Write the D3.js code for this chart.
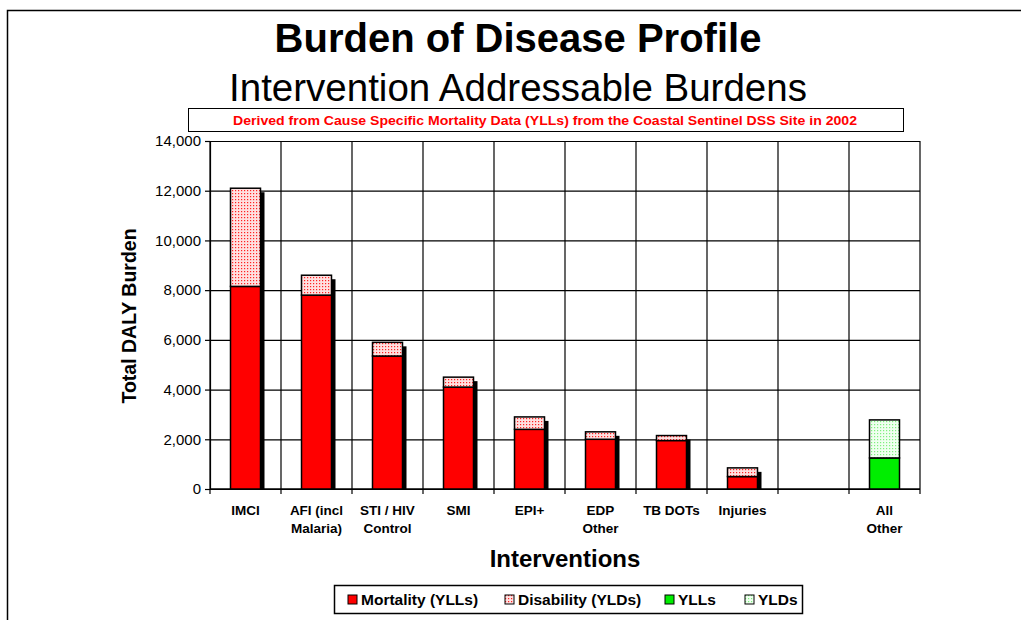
<!DOCTYPE html>
<html>
<head>
<meta charset="utf-8">
<script src="https://cdn.jsdelivr.net/npm/d3@7"></script>
<style>
  body { margin: 0; background: #fff; }
  svg { display: block; font-family: Arial, "Liberation Sans", sans-serif; }
</style>
</head>
<body>
<div id="chart"></div>
<script>
// Chart data
const categories = ["IMCI", "AFI (incl|Malaria)", "STI / HIV|Control", "SMI", "EPI+", "EDP|Other", "TB DOTs", "Injuries", "", "All|Other"];
const mortalityYLLs = [8150, 7800, 5350, 4100, 2400, 2000, 1950, 500, 0, 0];
const disabilityYLDs = [3950, 800, 550, 400, 500, 300, 200, 350, 0, 0];
const otherYLLs = [0, 0, 0, 0, 0, 0, 0, 0, 0, 1250];
const otherYLDs = [0, 0, 0, 0, 0, 0, 0, 0, 0, 1530];
const yTicks = [0, 2000, 4000, 6000, 8000, 10000, 12000, 14000];
const legendLabels = ["Mortality (YLLs)", "Disability (YLDs)", "YLLs", "YLDs"];

const width = 1021, height = 620;
const margin = { top: 141, right: 101, bottom: 131, left: 210 };
const chartWidth = width - margin.left - margin.right;
const chartHeight = height - margin.top - margin.bottom;

const svg = d3.select("#chart")
    .append("svg")
    .attr("width", width)
    .attr("height", height);

// Fill patterns for the dotted segments
const defs = svg.append("defs");
function dotPattern(id, bg, dot) {
    const p = defs.append("pattern")
        .attr("id", id)
        .attr("width", 3)
        .attr("height", 3)
        .attr("patternUnits", "userSpaceOnUse");
    p.append("rect").attr("width", 3).attr("height", 3).attr("fill", bg);
    p.append("rect").attr("x", 1).attr("y", 1).attr("width", 1.2).attr("height", 1.2).attr("fill", dot);
}
dotPattern("pinkDots", "#ffe0e0", "#f22");
dotPattern("greenDots", "#f0fff0", "#7ef07e");

// Outer frame
svg.append("path")
    .attr("d", `M7.5,${height} V10.5 H${width}`)
    .attr("fill", "none")
    .attr("stroke", "#000")
    .attr("stroke-width", 1.5);

// Titles
svg.append("text")
    .attr("x", 518).attr("y", 52)
    .attr("text-anchor", "middle")
    .style("font-size", "40px").style("font-weight", "bold")
    .text("Burden of Disease Profile");
svg.append("text")
    .attr("x", 518).attr("y", 101)
    .attr("text-anchor", "middle")
    .style("font-size", "38.5px")
    .text("Intervention Addressable Burdens");

svg.append("rect")
    .attr("x", 188.5).attr("y", 108.5)
    .attr("width", 715).attr("height", 23)
    .attr("fill", "#fff").attr("stroke", "#000").attr("stroke-width", 1);
svg.append("text")
    .attr("x", 233).attr("y", 124.5)
    .attr("fill", "#f00")
    .attr("textLength", 624)
    .attr("lengthAdjust", "spacingAndGlyphs")
    .style("font-size", "13px").style("font-weight", "bold")
    .text("Derived from Cause Specific Mortality Data (YLLs)  from the Coastal Sentinel DSS Site in 2002");

const g = svg.append("g")
    .attr("transform", `translate(${margin.left},${margin.top})`);

const xScale = d3.scaleBand()
    .domain(d3.range(categories.length))
    .range([0, chartWidth])
    .paddingInner(0)
    .paddingOuter(0);

const yScale = d3.scaleLinear()
    .domain([0, 14000])
    .range([chartHeight, 0]);

// Horizontal grid lines
g.append("g")
    .call(d3.axisLeft(yScale).tickValues(yTicks).tickSize(-chartWidth).tickFormat(""))
    .call(s => s.select(".domain").remove())
    .selectAll("line")
    .attr("stroke", "#000")
    .attr("stroke-width", 1.2);

// Vertical category separators
const boundaries = d3.range(categories.length + 1).map(i => i * xScale.step());
g.selectAll(".vgrid")
    .data(boundaries)
    .enter()
    .append("line")
    .attr("x1", d => d).attr("x2", d => d)
    .attr("y1", 0).attr("y2", chartHeight + 5)
    .attr("stroke", "#000")
    .attr("stroke-width", 1.2);

// Y axis
g.append("g")
    .call(d3.axisLeft(yScale).tickValues(yTicks).tickSize(5).tickFormat(d3.format(",")))
    .call(s => s.select(".domain").attr("stroke-width", 1.2))
    .call(s => s.selectAll("line").attr("stroke-width", 1.2))
    .selectAll("text")
    .attr("x", -9)
    .style("font-size", "15px")
    .attr("fill", "#000");

// Baseline
g.append("line")
    .attr("x1", 0).attr("x2", chartWidth)
    .attr("y1", chartHeight).attr("y2", chartHeight)
    .attr("stroke", "#000").attr("stroke-width", 1.5);

// Bars
const barW = 30;
categories.forEach((c, i) => {
    const x = xScale(i) + (xScale.bandwidth() - barW) / 2;
    const segs = [
        { v0: 0, v1: mortalityYLLs[i], fill: "#ff0000" },
        { v0: mortalityYLLs[i], v1: mortalityYLLs[i] + disabilityYLDs[i], fill: "url(#pinkDots)" },
        { v0: 0, v1: otherYLLs[i], fill: "#00ee00" },
        { v0: otherYLLs[i], v1: otherYLLs[i] + otherYLDs[i], fill: "url(#greenDots)" }
    ].filter(s => s.v1 > s.v0);
    if (segs.length === 0) return;
    const total = d3.max(segs, s => s.v1);
    // drop shadow for the intervention bars
    if (mortalityYLLs[i] > 0) {
        g.append("rect")
            .attr("x", x + 4)
            .attr("y", yScale(total) + 4)
            .attr("width", barW)
            .attr("height", chartHeight - yScale(total) - 4)
            .attr("fill", "#000");
    }
    segs.forEach(s => {
        g.append("rect")
            .attr("x", x)
            .attr("y", yScale(s.v1))
            .attr("width", barW)
            .attr("height", yScale(s.v0) - yScale(s.v1))
            .attr("fill", s.fill)
            .attr("stroke", "#000")
            .attr("stroke-width", 1.5);
    });
});

// Category labels
categories.forEach((c, i) => {
    const lines = c.split("|");
    const t = g.append("text")
        .attr("x", xScale(i) + xScale.bandwidth() / 2)
        .attr("y", chartHeight + 26)
        .attr("text-anchor", "middle")
        .style("font-size", "13.5px")
        .style("font-weight", "bold");
    lines.forEach((l, j) => {
        t.append("tspan")
            .attr("x", xScale(i) + xScale.bandwidth() / 2)
            .attr("dy", j === 0 ? 0 : 18)
            .text(l);
    });
});

// Axis titles
svg.append("text")
    .attr("transform", `translate(136,316) rotate(-90)`)
    .attr("text-anchor", "middle")
    .style("font-size", "19.5px").style("font-weight", "bold")
    .text("Total DALY Burden");
svg.append("text")
    .attr("x", 565).attr("y", 567)
    .attr("text-anchor", "middle")
    .style("font-size", "24px").style("font-weight", "bold")
    .text("Interventions");

// Legend
const legend = svg.append("g");
legend.append("rect")
    .attr("x", 334.5).attr("y", 585.5)
    .attr("width", 468).attr("height", 28)
    .attr("fill", "#fff").attr("stroke", "#000").attr("stroke-width", 1.5);
const legendFills = ["#ff0000", "url(#pinkDots)", "#00ee00", "url(#greenDots)"];
const legendX = [348, 505, 665, 745];
legendLabels.forEach((l, i) => {
    legend.append("rect")
        .attr("x", legendX[i]).attr("y", 595)
        .attr("width", 9).attr("height", 9)
        .attr("fill", legendFills[i])
        .attr("stroke", "#000").attr("stroke-width", 1);
    legend.append("text")
        .attr("x", legendX[i] + 13).attr("y", 605)
        .style("font-size", "15.5px").style("font-weight", "bold")
        .text(l);
});
</script>
</body>
</html>
